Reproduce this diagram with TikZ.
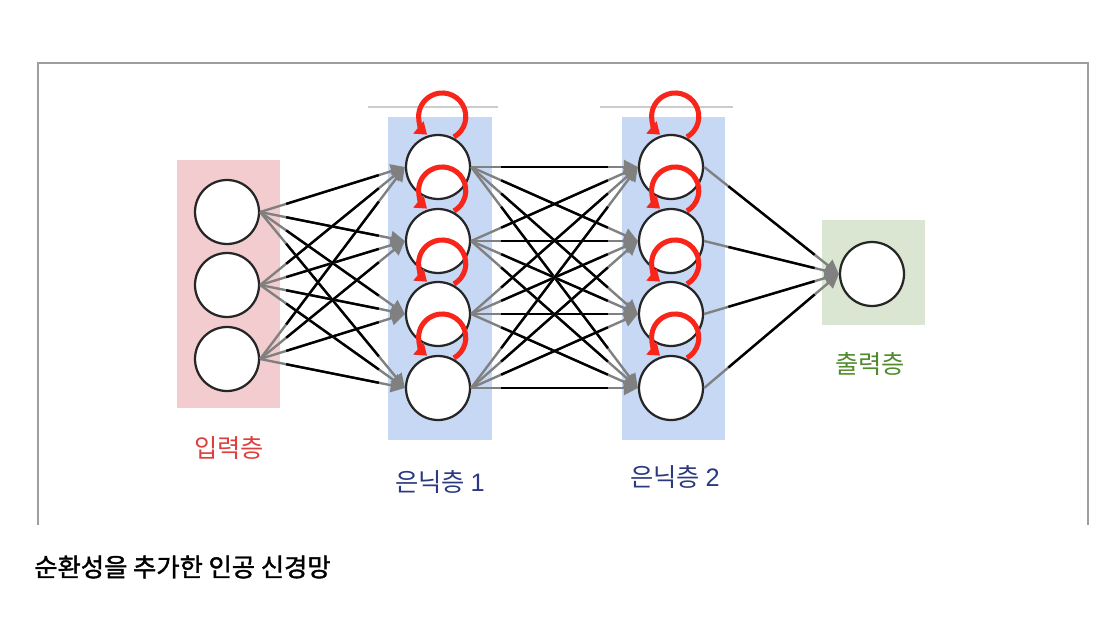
\documentclass[tikz,border=0pt]{standalone}
\usepackage{fontspec}
\setmainfont{Noto Sans CJK KR}
\newfontfamily\capfont[FakeBold=1.5]{Noto Sans CJK KR}
\newfontfamily\digitfont{Liberation Sans}
\usetikzlibrary{arrows.meta,calc}
\definecolor{inPink}{HTML}{F2CCCE}
\definecolor{hidBlue}{HTML}{C6D8F4}
\definecolor{outGreen}{HTML}{DAE6D2}
\definecolor{lblRed}{HTML}{E03E3C}
\definecolor{lblNavy}{HTML}{2B3A80}
\definecolor{lblGreen}{HTML}{4F8A2B}
\definecolor{loopRed}{HTML}{F8261A}

% two-tone connector: grey ends, black middle
\newcommand{\linkwire}[2]{%
  \draw[wiregray] (#1.east) -- (#2.west);
  \draw[wireblack] ($(#1.east)!0.18!(#2.west)$) -- ($(#1.east)!0.82!(#2.west)$);}
% recurrent loop on top of a neuron
\newcommand{\selfloop}[1]{%
  \draw[loopline] ($(#1)+(0.4,0.75)$) arc[start angle=-60,end angle=230,radius=0.59];}

\begin{document}
\begin{tikzpicture}[
  font=\fontsize{18pt}{20pt}\selectfont,
  neuron/.style={circle, draw=black!85, line width=1.6pt, fill=white,
    minimum size=1.6cm, inner sep=0pt},
  wiregray/.style={draw=black!50, line width=1.7pt,
    -{Triangle[length=10pt,width=10pt]}},
  wireblack/.style={draw=black, line width=1.7pt},
  loopline/.style={draw=loopRed, line width=3.6pt,
    -{Triangle[length=8pt,width=11pt]}},
  frame/.style={draw=black!38, line width=1.8pt},
]
\useasboundingbox (0,0) rectangle (27.95,15.75);

% frame and layer backgrounds
\draw[frame] (0.95,2.625) -- (0.95,14.175) -- (27.2,14.175) -- (27.2,2.625);
\fill[inPink] (4.425,5.55) rectangle (7.0,11.75);
\fill[hidBlue] (9.7,4.75) rectangle (12.3,12.825);
\fill[hidBlue] (15.55,4.75) rectangle (18.125,12.825);
\fill[outGreen] (20.55,7.625) rectangle (23.125,10.25);
\draw[black!20, line width=1pt] (9.2,13.075) -- (12.45,13.075);
\draw[black!20, line width=1pt] (15.0,13.075) -- (18.325,13.075);

% input layer
\node[neuron] (in1) at (5.675,10.45) {};
\node[neuron] (in2) at (5.675,8.625) {};
\node[neuron] (in3) at (5.675,6.775) {};

% hidden layer 1
\node[neuron] (ha1) at (10.95,11.575) {};
\node[neuron] (ha2) at (10.95,9.725) {};
\node[neuron] (ha3) at (10.95,7.9) {};
\node[neuron] (ha4) at (10.95,6.05) {};

% hidden layer 2
\node[neuron] (hb1) at (16.775,11.575) {};
\node[neuron] (hb2) at (16.775,9.725) {};
\node[neuron] (hb3) at (16.775,7.9) {};
\node[neuron] (hb4) at (16.775,6.05) {};

% output layer
\node[neuron] (out) at (21.8,8.9) {};

% connectors
\foreach \i in {1,2,3}
  \foreach \j in {1,2,3,4}
    {\linkwire{in\i}{ha\j}}
\foreach \i in {1,2,3,4}
  \foreach \j in {1,2,3,4}
    {\linkwire{ha\i}{hb\j}}
\foreach \i in {1,2,3,4}
  {\linkwire{hb\i}{out}}

% recurrent loops
\foreach \k in {1,2,3,4}
  {\selfloop{ha\k} \selfloop{hb\k}}

% labels
\node[text=lblRed] (lin) at (5.725,4.55) {입력층};
\node[text=lblNavy] (lha) at (11.0,3.7) {은닉층 {\digitfont 1}};
\node[text=lblNavy] (lhb) at (16.875,3.825) {은닉층 {\digitfont 2}};
\node[text=lblGreen] (lout) at (21.75,6.65) {출력층};
\node[anchor=west, text=black, inner sep=0pt, font=\capfont\fontsize{18pt}{20pt}\selectfont] (cap) at (0.85,1.575) {순환성을 추가한 인공 신경망};
\end{tikzpicture}
\end{document}
